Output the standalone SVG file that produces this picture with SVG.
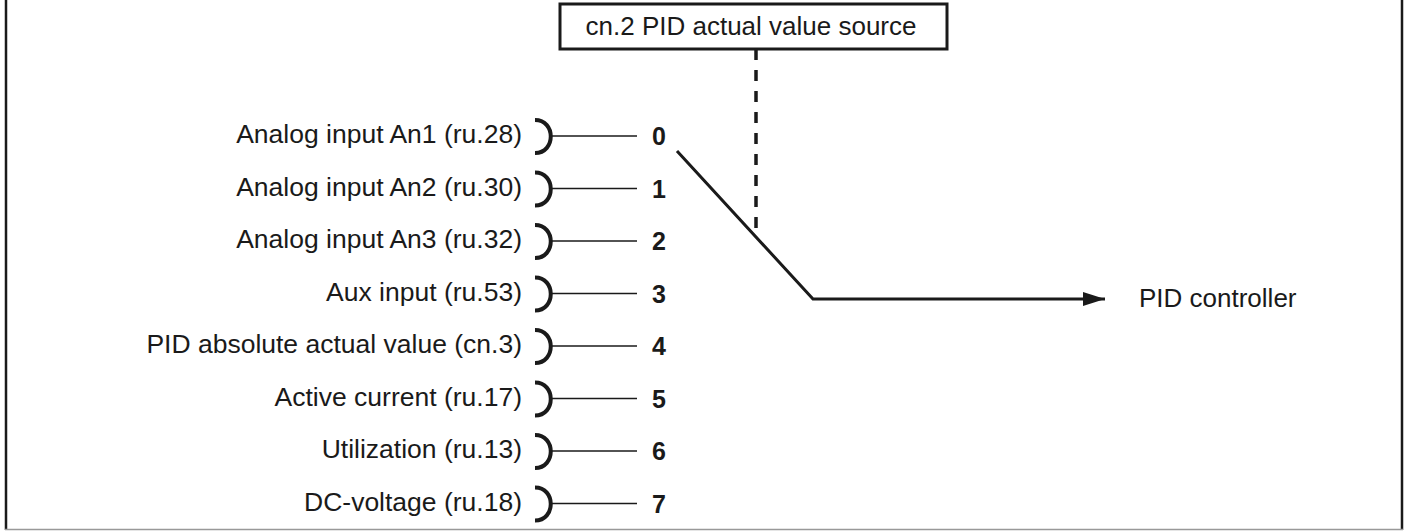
<svg xmlns="http://www.w3.org/2000/svg" width="1406" height="531" viewBox="0 0 1406 531">
<style>
.lbl{font-family:"Liberation Sans",Arial,sans-serif;font-size:26.5px;fill:#1a1a1a;text-anchor:end}
.num{font-family:"Liberation Sans",Arial,sans-serif;font-size:25px;font-weight:bold;fill:#1a1a1a}
.ttl{font-family:"Liberation Sans",Arial,sans-serif;font-size:26px;fill:#1a1a1a;text-anchor:middle}
.out{font-family:"Liberation Sans",Arial,sans-serif;font-size:26px;fill:#1a1a1a}
.br{fill:none;stroke:#1a1a1a;stroke-width:4}
.ln{stroke:#1a1a1a;stroke-width:1.5}
</style>
<defs>
<marker id="arr" markerWidth="22" markerHeight="14" refX="22" refY="7" orient="auto" markerUnits="userSpaceOnUse">
<path d="M0,0 L22,7 L0,14 Z" fill="#1a1a1a"/>
</marker>
</defs>
<rect x="0" y="0" width="1406" height="531" fill="#fff"/>
<g id="frame">
<line x1="6" y1="0" x2="6" y2="530" stroke="#1a1a1a" stroke-width="2.5"/>
<line x1="1402" y1="0" x2="1402" y2="530" stroke="#1a1a1a" stroke-width="2.5"/>
<line x1="5" y1="529.5" x2="1403" y2="529.5" stroke="#999" stroke-width="1.5"/>
</g>
<g id="title">
<rect x="560" y="4" width="387" height="45" fill="#fff" stroke="#1a1a1a" stroke-width="3"/>
<text class="ttl" x="751" y="35">cn.2 PID actual value source</text>
</g>
<g id="inputs">
<g id="in0"><text class="lbl" x="522" y="143">Analog input An1 (ru.28)</text><path class="br" d="M535,120 C556,120 556,153 535,153"/><line class="ln" x1="551" y1="136" x2="637" y2="136"/><text class="num" x="652" y="145">0</text></g>
<g id="in1"><text class="lbl" x="522" y="195.5">Analog input An2 (ru.30)</text><path class="br" d="M535,172.5 C556,172.5 556,205.5 535,205.5"/><line class="ln" x1="551" y1="188.5" x2="637" y2="188.5"/><text class="num" x="652" y="197.5">1</text></g>
<g id="in2"><text class="lbl" x="522" y="248">Analog input An3 (ru.32)</text><path class="br" d="M535,225 C556,225 556,258 535,258"/><line class="ln" x1="551" y1="241" x2="637" y2="241"/><text class="num" x="652" y="250">2</text></g>
<g id="in3"><text class="lbl" x="522" y="300.5">Aux input (ru.53)</text><path class="br" d="M535,277.5 C556,277.5 556,310.5 535,310.5"/><line class="ln" x1="551" y1="293.5" x2="637" y2="293.5"/><text class="num" x="652" y="302.5">3</text></g>
<g id="in4"><text class="lbl" x="522" y="353">PID absolute actual value (cn.3)</text><path class="br" d="M535,330 C556,330 556,363 535,363"/><line class="ln" x1="551" y1="346" x2="637" y2="346"/><text class="num" x="652" y="355">4</text></g>
<g id="in5"><text class="lbl" x="522" y="405.5">Active current (ru.17)</text><path class="br" d="M535,382.5 C556,382.5 556,415.5 535,415.5"/><line class="ln" x1="551" y1="398.5" x2="637" y2="398.5"/><text class="num" x="652" y="407.5">5</text></g>
<g id="in6"><text class="lbl" x="522" y="458">Utilization (ru.13)</text><path class="br" d="M535,435 C556,435 556,468 535,468"/><line class="ln" x1="551" y1="451" x2="637" y2="451"/><text class="num" x="652" y="460">6</text></g>
<g id="in7"><text class="lbl" x="522" y="510.5">DC-voltage (ru.18)</text><path class="br" d="M535,487.5 C556,487.5 556,520.5 535,520.5"/><line class="ln" x1="551" y1="503.5" x2="637" y2="503.5"/><text class="num" x="652" y="512.5">7</text></g>
</g>
<g id="output">
<text class="out" x="1139" y="307">PID controller</text>
</g>
<g id="connectors">
<line x1="756" y1="49" x2="756" y2="237" stroke="#1a1a1a" stroke-width="3.5" stroke-dasharray="11,10"/>
<polyline points="677,151 813,299 1105,299" fill="none" stroke="#1a1a1a" stroke-width="3" marker-end="url(#arr)"/>
</g>
</svg>
